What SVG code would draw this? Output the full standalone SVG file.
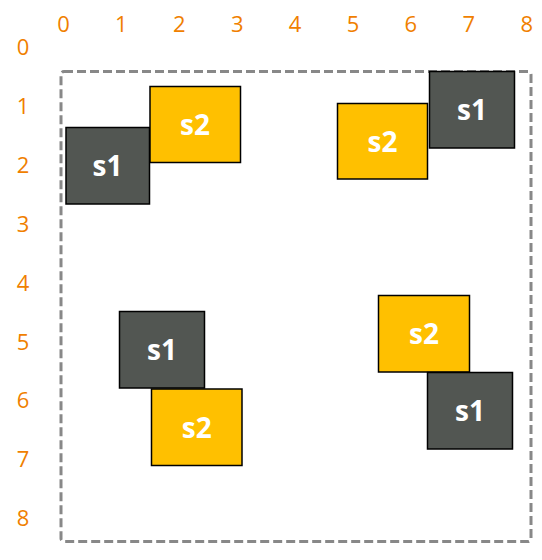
<svg xmlns="http://www.w3.org/2000/svg" width="542" height="560" viewBox="0 0 542 560">
<style>
.ax{font-family:"Open Sans","Liberation Sans",sans-serif;font-size:22px;fill:#F07F00;text-anchor:middle}
.s1 rect{fill:#525652;stroke:#000;stroke-width:1.5}
.s2 rect{fill:#FFC000;stroke:#000;stroke-width:1.5}
.lb{font-family:"Open Sans","Liberation Sans",sans-serif;font-weight:bold;font-size:28px;fill:#fff;text-anchor:middle}
</style>
<rect width="542" height="560" fill="#fff"/>
<g id="axes">
<text class="ax" x="63.5" y="32">0</text>
<text class="ax" x="121.4" y="32">1</text>
<text class="ax" x="179.3" y="32">2</text>
<text class="ax" x="237.2" y="32">3</text>
<text class="ax" x="295.1" y="32">4</text>
<text class="ax" x="353" y="32">5</text>
<text class="ax" x="410.9" y="32">6</text>
<text class="ax" x="468.8" y="32">7</text>
<text class="ax" x="526.7" y="32">8</text>
<text class="ax" x="23" y="55">0</text>
<text class="ax" x="23" y="113.9">1</text>
<text class="ax" x="23" y="172.8">2</text>
<text class="ax" x="23" y="231.7">3</text>
<text class="ax" x="23" y="290.6">4</text>
<text class="ax" x="23" y="349.5">5</text>
<text class="ax" x="23" y="408.4">6</text>
<text class="ax" x="23" y="467.3">7</text>
<text class="ax" x="23" y="526.2">8</text>
</g>
<rect id="frame" x="61" y="71.5" width="470" height="470" rx="3" fill="none" stroke="#888" stroke-width="3" stroke-dasharray="9,4"/>
<g id="s1a" class="s1"><rect x="66" y="127.5" width="83.5" height="76.5"/><text class="lb" x="107.5" y="176">s1</text></g>
<g id="s2a" class="s2"><rect x="150" y="86.5" width="90.5" height="76"/><text class="lb" x="195" y="134.5">s2</text></g>
<g id="s2b" class="s2"><rect x="337.5" y="103.5" width="90" height="75.5"/><text class="lb" x="382.5" y="151.5">s2</text></g>
<g id="s1b" class="s1"><rect x="429.5" y="71.5" width="85" height="76.5"/><text class="lb" x="472" y="120">s1</text></g>
<g id="s1c" class="s1"><rect x="119.5" y="311.5" width="85" height="76.5"/><text class="lb" x="162" y="360">s1</text></g>
<g id="s2c" class="s2"><rect x="151.5" y="389" width="90.5" height="76.5"/><text class="lb" x="196.7" y="437.5">s2</text></g>
<g id="s2d" class="s2"><rect x="378.5" y="295.5" width="91" height="76.5"/><text class="lb" x="424" y="344">s2</text></g>
<g id="s1d" class="s1"><rect x="427.5" y="372.5" width="85" height="76.5"/><text class="lb" x="470" y="421">s1</text></g>
<g id="connectors"/>
</svg>
